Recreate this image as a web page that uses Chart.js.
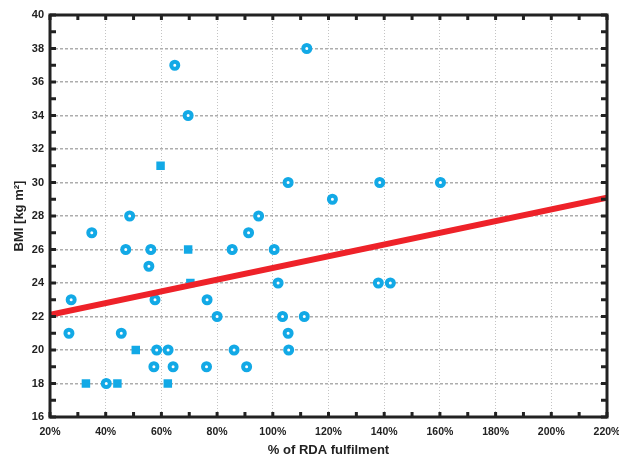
<!DOCTYPE html>
<html>
<head>
<meta charset="utf-8">
<script src="https://cdn.jsdelivr.net/npm/chart.js@4.4.1/dist/chart.umd.min.js"></script>
<style>
  html, body { margin: 0; padding: 0; background: #fff; }
  #wrap { width: 619px; height: 457px; }
</style>
</head>
<body>
<div id="wrap"><canvas id="bmiChart" width="619" height="457"></canvas></div>
<script>
// % of RDA fulfilment vs BMI
const circleX = [112.2, 64.8, 69.6, 105.5, 138.4, 160.2, 121.4, 48.6, 94.9, 35.0, 91.3,
  47.2, 56.2, 85.4, 100.5, 55.5, 101.9, 137.9, 142.2, 27.6, 57.7, 76.4, 80.0, 103.5,
  111.3, 26.8, 45.6, 105.5, 58.3, 62.4, 86.1, 105.7, 57.3, 64.2, 76.2, 90.6, 40.2];
const circleY = [38, 37, 34, 30, 30, 30, 29, 28, 28, 27, 27,
  26, 26, 26, 26, 25, 24, 24, 24, 23, 23, 23, 22, 22,
  22, 21, 21, 21, 20, 20, 20, 20, 19, 19, 19, 19, 18];
const squareX = [59.7, 69.6, 70.4, 50.8, 32.9, 44.2, 62.3];
const squareY = [31, 26, 24, 20, 18, 18, 18];
const fitX = [20, 220];
const fitY = [22.1, 29.1];
const xTicks = [20, 40, 60, 80, 100, 120, 140, 160, 180, 200, 220];
const yTicks = [16, 18, 20, 22, 24, 26, 28, 30, 32, 34, 36, 38, 40];

const cyan = '#12a9e6';
const red = '#ee2229';
const toPts = (xs, ys) => xs.map((x, i) => ({ x: x, y: ys[i] }));

Chart.defaults.font.family = "'Liberation Sans Narrow', 'Liberation Sans', Arial, sans-serif";
Chart.defaults.font.weight = 'bold';
Chart.defaults.color = '#222';

// box frame + small inward ticks, like the original plot
const framePlugin = {
  id: 'frame',
  afterDraw(chart) {
    const { ctx, chartArea: a, scales } = chart;
    ctx.save();
    ctx.fillStyle = '#222';
    for (let v = 20; v <= 220; v += 10) {
      const px = scales.x.getPixelForValue(v);
      ctx.fillRect(px - 1.5, a.top, 3, 5);
      ctx.fillRect(px - 1.5, a.bottom - 5, 3, 5);
    }
    for (let v = 16; v <= 40; v += 1) {
      const py = scales.y.getPixelForValue(v);
      ctx.fillRect(a.left, py - 1.5, 6, 3);
      ctx.fillRect(a.right - 6, py - 1.5, 6, 3);
    }
    ctx.strokeStyle = '#222';
    ctx.lineWidth = 3;
    ctx.strokeRect(a.left, a.top, a.right - a.left, a.bottom - a.top);
    ctx.restore();
  }
};

const chart = new Chart(document.getElementById('bmiChart').getContext('2d'), {
  type: 'scatter',
  data: {
    datasets: [
      {
        label: 'fit',
        data: toPts(fitX, fitY),
        showLine: true,
        borderColor: red,
        borderWidth: 6,
        pointRadius: 0
      },
      {
        label: 'circles',
        data: toPts(circleX, circleY),
        pointStyle: 'circle',
        pointRadius: 3.5,
        pointBorderWidth: 4,
        pointBorderColor: cyan,
        pointBackgroundColor: '#fff'
      },
      {
        label: 'squares',
        data: toPts(squareX, squareY),
        pointStyle: 'rect',
        pointRadius: 6,
        pointBorderWidth: 0,
        pointBackgroundColor: cyan
      }
    ]
  },
  options: {
    responsive: false,
    animation: false,
    layout: { padding: { top: 15, right: 12, left: 0, bottom: 0 } },
    plugins: { legend: { display: false }, tooltip: { enabled: false } },
    scales: {
      x: {
        type: 'linear',
        min: 20,
        max: 220,
        afterFit: s => { s.height = 40; s.paddingLeft = 0; s.paddingRight = 0; },
        afterBuildTicks: s => { s.ticks = xTicks.map(v => ({ value: v })); },
        ticks: { callback: v => v + '%', padding: 9, font: { size: 10.5 } },
        grid: { color: '#c4c4c4', lineWidth: 1, drawTicks: false },
        border: { display: false, dash: [1, 2] },
        title: { display: true, text: '% of RDA fulfilment', font: { size: 13, lineHeight: 1 }, padding: { top: 1, bottom: 0 } }
      },
      y: {
        min: 16,
        max: 40,
        afterFit: s => { s.width = 50; s.paddingTop = 0; s.paddingBottom = 0; },
        afterBuildTicks: s => { s.ticks = yTicks.map(v => ({ value: v })); },
        ticks: { padding: 6, font: { size: 11 } },
        grid: { color: '#adadad', lineWidth: 1.5, drawTicks: false },
        border: { display: false, dash: [3, 2] },
        title: { display: true, text: 'BMI [kg m²]', font: { size: 13, lineHeight: 1 }, padding: { top: 13, bottom: 0 } }
      }
    }
  },
  plugins: [framePlugin]
});
</script>
</body>
</html>
